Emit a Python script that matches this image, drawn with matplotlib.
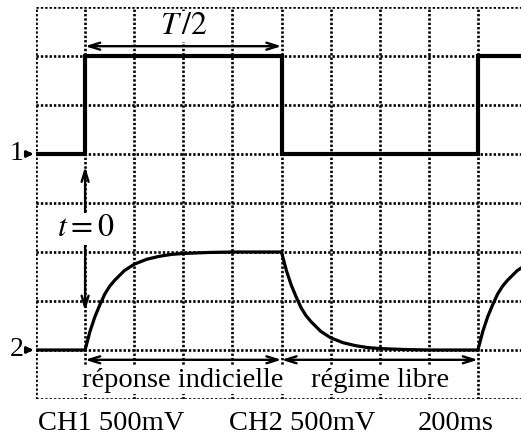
import matplotlib.pyplot as plt

plt.rcParams['font.family'] = ['Liberation Serif', 'DejaVu Serif']
plt.rcParams['mathtext.fontset'] = 'stix'

# oscilloscope screen, in divisions
n_xdiv = 10
n_ydiv = 8

# CH1: square wave (divisions)
ch1_t = [0, 1, 1, 5, 5, 9, 9, 10]
ch1_v = [5, 5, 7, 7, 5, 5, 7, 7]

# CH2: response, time after each edge (div)
t_rel = [0, 0.1, 0.2, 0.3, 0.4, 0.5, 0.6, 0.8, 1.0, 1.25, 1.5, 1.75, 2.0, 2.5, 3.0, 4.0]
charge = [1.00, 1.38, 1.68, 1.92, 2.14, 2.30, 2.42, 2.62, 2.75, 2.85, 2.91, 2.95, 2.97, 2.99, 3.00, 3.00]
discharge = [3.00, 2.62, 2.32, 2.08, 1.86, 1.70, 1.58, 1.38, 1.25, 1.15, 1.09, 1.05, 1.03, 1.01, 1.00, 1.00]
edges = [1, 5, 9]

ch2_t = [0]
ch2_v = [1.0]
for i, e in enumerate(edges):
    seg = charge if i % 2 == 0 else discharge
    ch2_t += [e + t for t in t_rel]
    ch2_v += seg

fig = plt.figure(figsize=(5.21, 4.38), dpi=100)
ax = fig.add_axes([36 / 521, 39 / 438, 491 / 521, 392 / 438])
ax.set_xlim(0, n_xdiv)
ax.set_ylim(0, n_ydiv)
ax.axis('off')

dots = (0, (0.9, 0.75))
for i in range(n_xdiv + 1):
    ax.axvline(i, color='black', lw=1.9, ls=dots, zorder=1)
for j in range(n_ydiv + 1):
    ax.axhline(j, color='black', lw=1.9, ls=dots, zorder=1)

ax.plot(ch1_t, ch1_v, color='black', lw=3.0, solid_joinstyle='miter', zorder=3)
ax.plot(ch2_t, ch2_v, color='black', lw=2.3, zorder=3)

# channel markers
for lab, lev in [('1', 5), ('2', 1)]:
    ax.annotate('', xy=(0, lev), xytext=(-0.22, lev),
                arrowprops=dict(arrowstyle='-|>,head_length=0.35,head_width=0.18',
                                color='black', lw=2), annotation_clip=False)
    ax.text(-0.4, lev, lab, fontsize=20, ha='center', va='center', clip_on=False)

dbl = dict(arrowstyle='<->,head_length=0.8,head_width=0.25', color='black', lw=1.7,
           shrinkA=0, shrinkB=0)
one = dict(arrowstyle='->,head_length=0.8,head_width=0.25', color='black', lw=1.7,
           shrinkA=0, shrinkB=0)
white = dict(facecolor='white', edgecolor='none', pad=1)

# T/2
ax.annotate('', xy=(1, 7.2), xytext=(5, 7.2), arrowprops=dbl)
ax.text(3.02, 7.6, r'$T\,/2$', fontsize=23, ha='center', va='center', bbox=white)

# t = 0
ax.annotate('', xy=(1, 4.74), xytext=(1, 3.76), arrowprops=one)
ax.annotate('', xy=(1, 1.8), xytext=(1, 3.2), arrowprops=one)
ax.text(1.02, 3.47, r'$t = 0$', fontsize=23, ha='center', va='center', bbox=white)

# bottom arrows
ax.annotate('', xy=(1, 0.8), xytext=(5, 0.8), arrowprops=dbl)
ax.annotate('', xy=(5, 0.8), xytext=(9, 0.8), arrowprops=dbl)
ax.text(2.98, 0.38, 'réponse indicielle', fontsize=20.5, ha='center', va='center', bbox=white)
ax.text(7.0, 0.38, 'régime libre', fontsize=20.5, ha='center', va='center', bbox=white)

# scale info
fig.text(111 / 521, 1 - 424 / 438, 'CH1 500mV', fontsize=20.5, ha='center', va='center')
fig.text(302 / 521, 1 - 424 / 438, 'CH2 500mV', fontsize=20.5, ha='center', va='center')
fig.text(456 / 521, 1 - 424 / 438, '200ms', fontsize=20.5, ha='center', va='center')

fig.savefig('out.png', dpi=100)
plt.close(fig)
